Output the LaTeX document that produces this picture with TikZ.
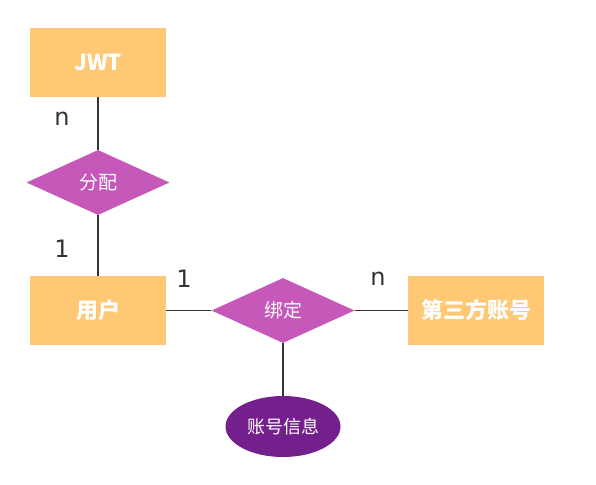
\documentclass[tikz,border=0pt]{standalone}
\usepackage{fontspec}
\setmainfont{Noto Sans CJK SC}
\newfontfamily\labfont{DejaVu Sans}
\usetikzlibrary{shapes.geometric}
\definecolor{entcol}{HTML}{FFC875}
\definecolor{relcol}{HTML}{C558B8}
\definecolor{attcol}{HTML}{74208C}
\definecolor{edgecol}{HTML}{333333}

\begin{document}
\begin{tikzpicture}[x=1pt, y=-1pt,
  ent/.style={fill=entcol, text=white, font=\fontsize{22}{26}\selectfont\bfseries,
              minimum width=136pt, minimum height=69pt, inner sep=0pt},
  rel/.style={diamond, fill=relcol, text=white, font=\fontsize{19}{22}\selectfont,
              aspect=2.2, minimum width=143pt, minimum height=65pt, inner sep=0pt},
  att/.style={ellipse, fill=attcol, text=white, font=\fontsize{18}{21}\selectfont,
              minimum width=115pt, minimum height=61pt, inner sep=0pt},
  ln/.style={draw=edgecol, line width=1.5pt},
  card/.style={font=\labfont\fontsize{24}{28}\selectfont, text=edgecol}]
\useasboundingbox (0,0) rectangle (596,484);
\node[ent] (jwt)  at (98,62.5)   {JWT};
\node[rel] (fp)   at (98,182.5)  {分配};
\node[ent] (user) at (98,310.5)  {用户};
\node[rel] (bind) at (283,310.5) {绑定};
\node[ent] (tp)   at (476,310.5) {第三方账号};
\node[att] (info) at (283,426.5) {账号信息};
\draw[ln] (jwt) -- (fp.north);
\draw[ln] (fp.south) -- (user);
\draw[ln] (user) -- (bind.west);
\draw[ln] (bind.east) -- (tp);
\draw[ln] (bind.south) -- (info);
\node[card] (c1) at (62,119)  {n};
\node[card] (c2) at (62,249)  {1};
\node[card] (c3) at (184,279) {1};
\node[card] (c4) at (378,279) {n};
\end{tikzpicture}
\end{document}
